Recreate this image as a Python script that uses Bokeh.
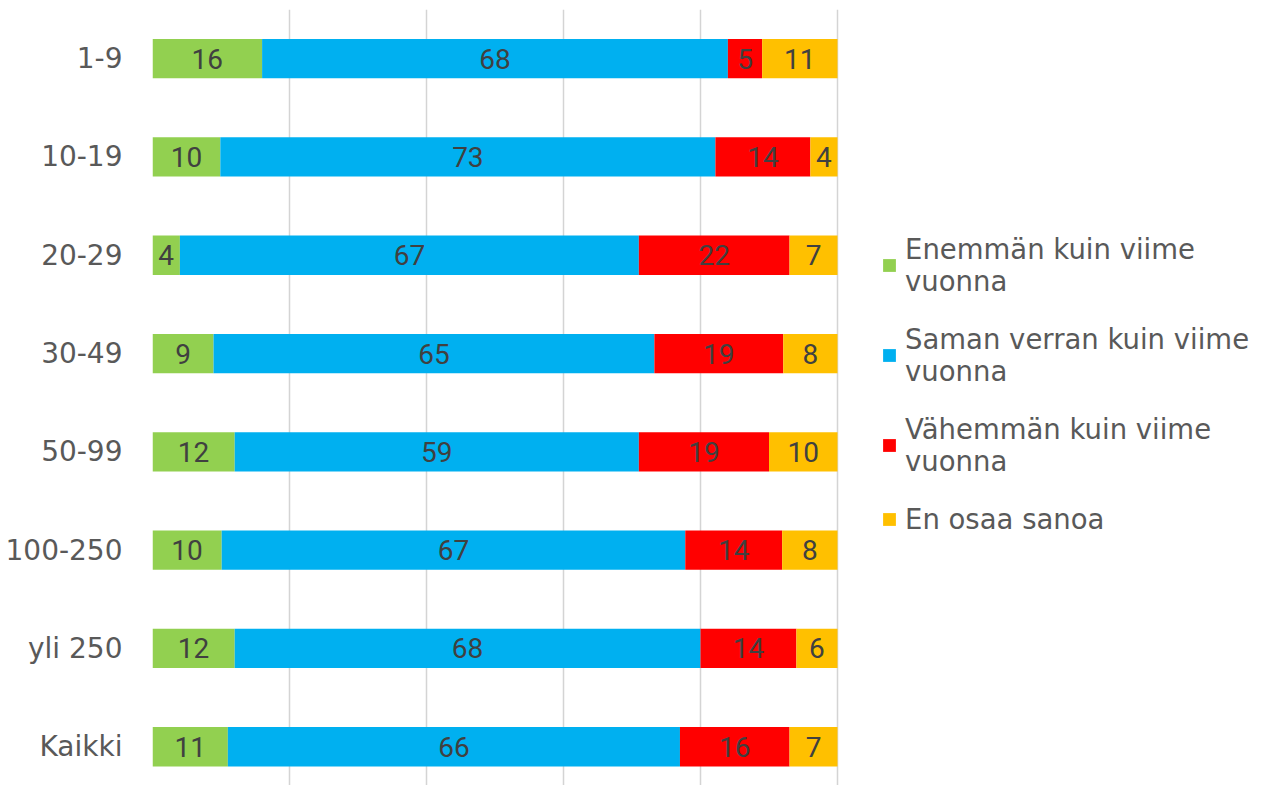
from bokeh.plotting import figure
from bokeh.models import ColumnDataSource, FixedTicker, Legend, LegendItem, Range1d
from bokeh.core.properties import value
from bokeh.embed import file_html
from bokeh.resources import INLINE

categories = ["1-9", "10-19", "20-29", "30-49", "50-99", "100-250", "yli 250", "Kaikki"]
enemman = [16, 10, 4, 9, 12, 10, 12, 11]
saman = [68, 73, 67, 65, 59, 67, 68, 66]
vahemman = [5, 14, 22, 19, 19, 14, 14, 16]
en_osaa = [11, 4, 7, 8, 10, 8, 6, 7]
series_names = ["Enemmän kuin viime\nvuonna", "Saman verran kuin viime\nvuonna",
                "Vähemmän kuin viime\nvuonna", "En osaa sanoa"]
colors = ["#92D050", "#00B0F0", "#FF0000", "#FFC000"]
x_ticks = [0, 20, 40, 60, 80, 100]

n = len(categories)
series = [enemman, saman, vahemman, en_osaa]
keys = ["s0", "s1", "s2", "s3"]
ypos = [n - 1 - i for i in range(n)]
totals = [sum(s[i] for s in series) for i in range(n)]
data = {"y": ypos}
for k, s in zip(keys, series):
    data[k] = [s[i] * 100.0 / totals[i] for i in range(n)]
source = ColumnDataSource(data)

W, H = 1255, 785
left_b, top_b = 152, 9
fw, fh = W - left_b, H - top_b
p = figure(width=W, height=H, output_backend="svg", toolbar_location=None,
           x_range=Range1d(0, 100 * fw / 685.0), y_range=Range1d(7.5 - fh / 98.3, 7.5),
           min_border_left=left_b, min_border_top=top_b, min_border_bottom=0, min_border_right=0)
p.outline_line_color = None
p.background_fill_color = "white"

rends = p.hbar_stack(keys, y="y", height=0.4, color=colors, source=source, line_width=0)

for j, k in enumerate(keys):
    lefts = [sum(data[kk][i] for kk in keys[:j]) for i in range(n)]
    mids = [lefts[i] + data[k][i] / 2 for i in range(n)]
    txt = [str(series[j][i]) for i in range(n)]
    ls = ColumnDataSource(dict(x=mids, y=ypos, t=txt))
    p.text(x="x", y="y", text="t", source=ls, text_align="center", text_baseline="middle",
           text_font=value("Roboto"), text_font_size="28px", text_color="#404040")

p.xaxis.visible = False
p.xgrid.ticker = FixedTicker(ticks=x_ticks)
p.xgrid.grid_line_color = "#d4d4d4"
p.xgrid.grid_line_width = 1.5
p.ygrid.grid_line_color = None

ax = p.yaxis[0]
ax.ticker = FixedTicker(ticks=list(range(n)))
ax.major_label_overrides = {ypos[i]: categories[i] for i in range(n)}
ax.axis_line_color = None
ax.major_tick_line_color = None
ax.minor_tick_line_color = None
ax.major_tick_out = 0
ax.major_label_standoff = 30
ax.major_label_text_font = "DejaVu Sans"
ax.major_label_text_font_size = "28px"
ax.major_label_text_color = "#595959"

items = [LegendItem(label=series_names[j], renderers=[rends[j]]) for j in range(4)]
legend = Legend(items=items, location=(729, 250), border_line_color=None,
                background_fill_alpha=0, padding=0, margin=0, spacing=26,
                glyph_width=16, glyph_height=16, label_standoff=8,
                label_text_font="DejaVu Sans", label_text_font_size="27.5px",
                label_text_color="#595959", label_text_line_height=1.2)
p.add_layout(legend)

open("out.html", "w").write(file_html(p, INLINE))
